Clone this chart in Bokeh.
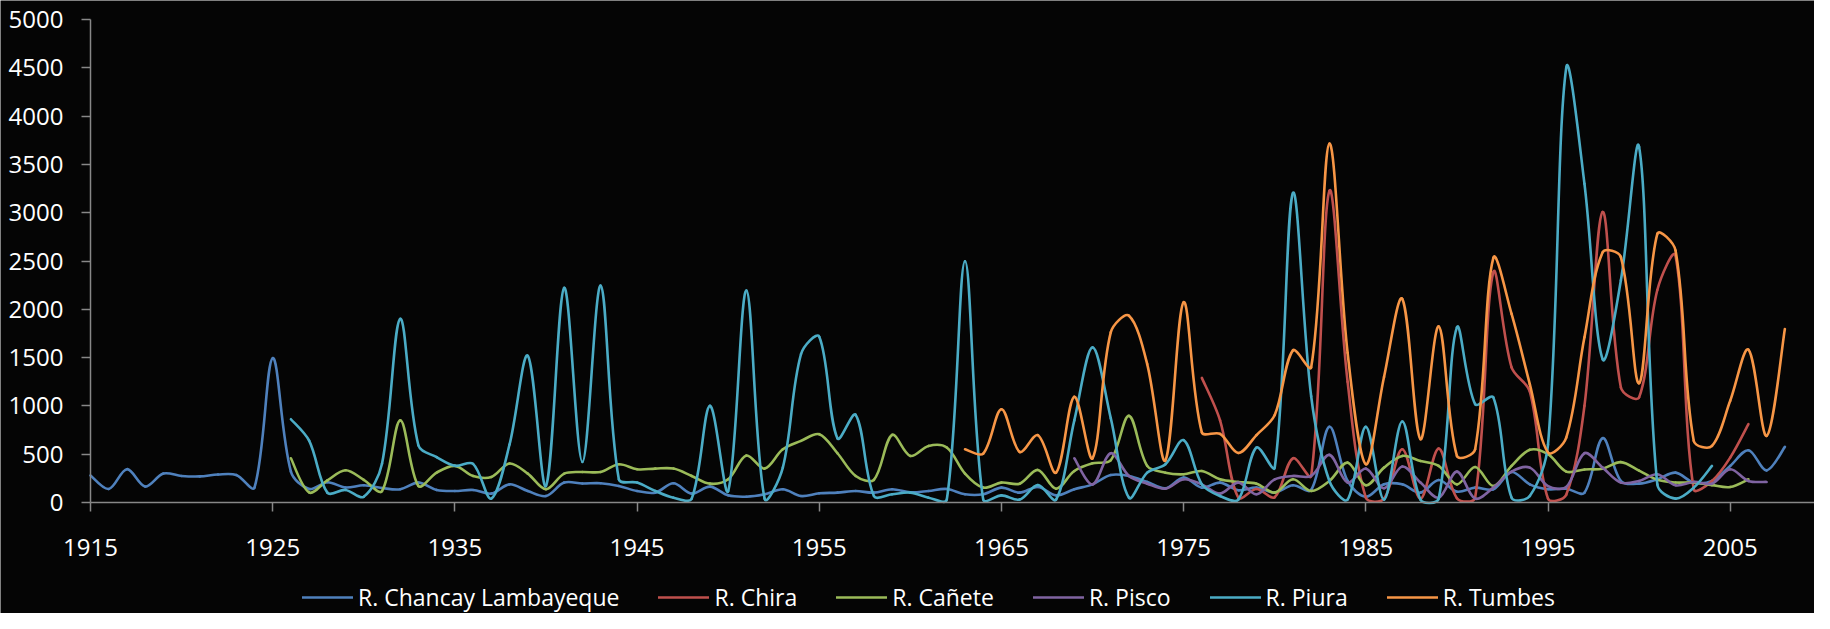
from bokeh.plotting import figure
from bokeh.models import FixedTicker, Legend, LegendItem, Range1d, ColumnDataSource
from bokeh.embed import file_html
from bokeh.resources import INLINE

# ---------------- data ----------------
chancay_years = list(range(1915, 2009))
chancay = [280, 140, 345, 165, 300, 275, 270, 290, 285, 155,
           1495, 320, 140, 210, 155, 178, 150, 137, 206, 130,
           119, 130, 92, 188, 119, 67, 206, 197, 199, 171,
           119, 102, 199, 92, 164, 74, 60, 85, 137, 67,
           95, 102, 119, 102, 137, 105, 119, 140, 85, 85,
           154, 102, 161, 74, 137, 188, 285, 275, 213, 147,
           258, 154, 206, 126, 154, 102, 178, 130, 783, 223,
           60, 188, 188, 102, 233, 112, 154, 137, 316, 188,
           137, 143, 102, 666, 223, 195, 240, 309, 206, 223,
           379, 541, 333, 576]

chira_years = list(range(1976, 2007))
chira = [1290, 850, 50, 140, 55, 458, 275, 3225, 1250, 50,
         40, 551, 40, 558, 45, 50, 2384, 1399, 1150, 40,
         80, 1000, 3007, 1191, 1088, 2200, 2557, 137, 223, 465,
         811]

canete_years = list(range(1926, 2007))
canete = [458, 104, 229, 334, 235, 118, 850, 171, 310, 379,
          275, 264, 403, 299, 137, 299, 316, 316, 396, 344,
          351, 351, 275, 195, 240, 486, 351, 551, 638, 707,
          510, 275, 235, 700, 482, 586, 569, 300, 154, 206,
          195, 337, 143, 326, 406, 437, 897, 379, 309, 292,
          326, 240, 213, 195, 102, 240, 119, 223, 413, 178,
          361, 482, 430, 379, 188, 368, 171, 379, 545, 500,
          320, 342, 350, 418, 330, 235, 207, 207, 180, 160,
          240]

pisco_years = list(range(1969, 2008))
pisco = [458, 188, 510, 275, 195, 143, 240, 188, 92, 206,
         85, 240, 275, 275, 493, 206, 351, 147, 372, 206,
         50, 320, 40, 154, 320, 361, 170, 160, 510, 361,
         206, 223, 292, 178, 213, 195, 344, 223, 213]

piura_years = list(range(1926, 2005))
piura = [862, 640, 102, 130, 60, 400, 1900, 590, 470, 380,
         400, 40, 600, 1519, 171, 2221, 420, 2245, 240, 206,
         119, 50, 40, 1001, 119, 2194, 40, 361, 1537, 1716,
         664, 907, 67, 85, 102, 50, 30, 2498, 30, 74,
         30, 181, 30, 850, 1606, 873, 50, 309, 396, 645,
         188, 67, 30, 569, 361, 3203, 1100, 223, 30, 783,
         30, 838, 30, 40, 1813, 1018, 1088, 50, 67, 600,
         4500, 3300, 1483, 2300, 3681, 188, 40, 154, 379]

tumbes_years = list(range(1963, 2009))
tumbes = [551, 506, 966, 524, 697, 309, 1094, 458, 1761, 1934,
          1433, 437, 2073, 726, 711, 513, 698, 906, 1575, 1400,
          3715, 1550, 396, 1300, 2108, 656, 1823, 482, 551, 2532,
          1952, 1226, 517, 672, 1710, 2590, 2540, 1235, 2781, 2609,
          638, 586, 1053, 1582, 690, 1796]

series_names = ["R. Chancay Lambayeque", "R. Chira", "R. Cañete",
                "R. Pisco", "R. Piura", "R. Tumbes"]
series_colors = ["#4F81BD", "#C0504D", "#9BBB59", "#8064A2", "#4BACC6", "#F79646"]
x_ticks = list(range(1915, 2006, 10))
y_ticks = list(range(0, 5001, 500))

series = [(chancay_years, chancay), (chira_years, chira), (canete_years, canete),
          (pisco_years, pisco), (piura_years, piura), (tumbes_years, tumbes)]

# ---------------- layout (px inside the figure) ----------------
FIG_W, FIG_H = 1814, 613
X0_PX = 90          # where 1915 sits
Y0_PX = 502         # where value 0 sits
Y5000_PX = 19       # where value 5000 sits
PX_X = (1729.7 - X0_PX) / 90.0
PX_Y = (Y0_PX - Y5000_PX) / 5000.0
X_START = 1915 - X0_PX / PX_X
X_END = 1915 + (FIG_W - X0_PX) / PX_X
Y_START = -(FIG_H - Y0_PX) / PX_Y
Y_END = 5000 + Y5000_PX / PX_Y


def smooth_segments(xs, ys):
    """Bezier control points for a smoothed line: tangent from neighbours,
    arm lengths proportional to the adjacent segment lengths on screen."""
    n = len(xs)

    def dist(i, j):
        return (((xs[j] - xs[i]) * PX_X) ** 2 + ((ys[j] - ys[i]) * PX_Y) ** 2) ** 0.5

    out_arm, in_arm = [], []
    for i in range(n):
        pm = max(i - 1, 0)
        pp = min(i + 1, n - 1)
        tx = xs[pp] - xs[pm]
        ty = ys[pp] - ys[pm]
        if i == 0 or i == n - 1:
            out_arm.append((tx / 6.0, ty / 6.0)); in_arm.append((tx / 6.0, ty / 6.0)); continue
        d1 = dist(pm, i)
        d2 = dist(i, pp)
        fo = d2 / (d1 + d2) / 3.0
        fi = d1 / (d1 + d2) / 3.0
        out_arm.append((tx * fo, ty * fo))
        in_arm.append((tx * fi, ty * fi))
    d = dict(x0=[], y0=[], x1=[], y1=[], cx0=[], cy0=[], cx1=[], cy1=[])
    for i in range(n - 1):
        d["x0"].append(xs[i]); d["y0"].append(ys[i])
        d["x1"].append(xs[i + 1]); d["y1"].append(ys[i + 1])
        d["cx0"].append(xs[i] + out_arm[i][0]); d["cy0"].append(ys[i] + out_arm[i][1])
        d["cx1"].append(xs[i + 1] - in_arm[i + 1][0]); d["cy1"].append(ys[i + 1] - in_arm[i + 1][1])
    return d


FONT = "Open Sans"
FS = "24px"
BG = "#050505"
AXIS = "#888888"

p = figure(width=FIG_W, height=FIG_H, output_backend="svg", toolbar_location=None,
           x_range=Range1d(X_START, X_END), y_range=Range1d(Y_START, Y_END),
           min_border_left=0, min_border_right=0, min_border_top=0, min_border_bottom=0)
p.background_fill_color = BG
p.border_fill_color = BG
p.outline_line_color = None
p.xgrid.visible = False
p.ygrid.visible = False

items = []
for (xs, ys), name, col in zip(series, series_names, series_colors):
    src = ColumnDataSource(smooth_segments(xs, ys))
    r = p.bezier(x0="x0", y0="y0", x1="x1", y1="y1", cx0="cx0", cy0="cy0",
                 cx1="cx1", cy1="cy1", source=src, line_color=col,
                 line_width=2.6, line_cap="round")
    items.append(LegendItem(label=name, renderers=[r]))

for ax in (p.xaxis[0], p.yaxis[0]):
    ax.axis_line_color = AXIS
    ax.axis_line_width = 1.5
    ax.major_tick_line_color = AXIS
    ax.major_tick_line_width = 1.5
    ax.major_tick_in = 0
    ax.major_tick_out = 9
    ax.minor_tick_line_color = None
    ax.major_label_text_color = "#FFFFFF"
    ax.major_label_text_font = FONT
    ax.major_label_text_font_size = FS

p.xaxis.ticker = FixedTicker(ticks=x_ticks)
p.xaxis.fixed_location = 0
p.xaxis.bounds = (1915, 2010)
p.xaxis.major_label_standoff = 27
p.yaxis.ticker = FixedTicker(ticks=y_ticks)
p.yaxis.fixed_location = 1915
p.yaxis.bounds = (0, 5000)
p.yaxis.major_label_standoff = 18

legend = Legend(items=items, orientation="horizontal", location=(302, 0),
                glyph_width=51, glyph_height=20, label_standoff=5, spacing=39,
                padding=0, margin=0, background_fill_alpha=0, border_line_alpha=0,
                label_text_color="#FFFFFF", label_text_font=FONT,
                label_text_font_size="23px")
p.add_layout(legend, "center")

open("out.html", "w").write(file_html(p, INLINE))
